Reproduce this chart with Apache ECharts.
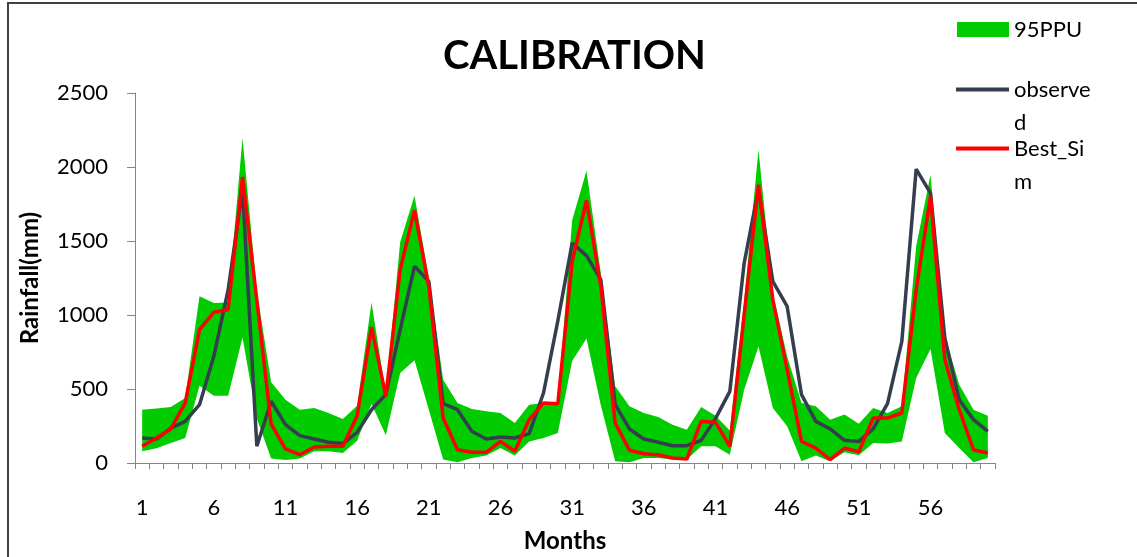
<!DOCTYPE html>
<html>
<head>
<meta charset="utf-8">
<script src="https://cdn.jsdelivr.net/npm/echarts@6/dist/echarts.min.js"></script>
<style>
html,body{margin:0;padding:0;background:#fff;}
#chart{width:1137px;height:557px;}
</style>
</head>
<body>
<div id="chart"></div>
<script>
const months = [];
for (let m = 1; m <= 60; m++) months.push(String(m));

const observed = [169,162,236,281,394,721,1171,1850,113,417,
  259,185,162,140,131,207,360,462,901,1329,
  1227,401,360,214,162,176,169,198,473,960,
  1486,1401,1239,394,230,162,140,117,117,153,
  300,484,1351,1850,1227,1058,462,281,230,153,
  146,230,401,822,1986,1824,845,428,293,214];

const bestSim = [113,169,230,405,901,1018,1036,1932,1100,262,
  95,56,108,113,113,320,919,450,1306,1707,
  1190,304,90,72,72,146,79,293,405,401,
  1360,1775,1194,270,86,63,56,34,27,281,
  275,113,1000,1880,1103,631,146,101,23,101,
  75,304,304,338,1171,1802,698,360,90,68];

const upper95 = [360,368,378,439,1126,1081,1085,2196,1160,545,
  428,360,372,338,297,387,1085,470,1491,1806,
  1250,563,405,365,349,338,270,394,405,410,
  1640,1975,1280,518,383,338,311,259,225,378,
  320,220,1100,2117,1150,720,405,383,293,327,
  265,372,338,383,1464,1948,860,530,360,320];

const lower95 = [79,99,135,169,522,455,455,848,300,30,
  20,30,79,79,68,150,400,188,608,694,
  360,23,5,34,50,101,50,146,169,203,
  690,842,390,11,5,34,34,23,23,113,
  113,56,495,788,372,248,11,50,11,72,
  53,135,131,146,574,770,203,101,5,34];

const yTicks = {min: 0, max: 2500, interval: 500};

const bandWidth = upper95.map((u, i) => u - lower95[i]);

const FONT = 'Lato, "Open Sans", sans-serif';
const chart = echarts.init(document.getElementById('chart'));

const legendText = {fontFamily: FONT, fontSize: 22, color: '#000', lineHeight: 33};

chart.setOption({
  animation: false,
  backgroundColor: '#fff',
  title: {
    text: 'CALIBRATION',
    left: 443, top: 34, padding: 0,
    textStyle: {fontFamily: FONT, fontSize: 40, fontWeight: 'bold', color: '#000', lineHeight: 44}
  },
  graphic: [{
    type: 'rect', silent: true, z: 100,
    shape: {x: 8, y: 3, width: 1150, height: 570},
    style: {fill: 'none', stroke: '#404040', lineWidth: 2}
  }],
  legend: [
    {
      data: [{name: '95PPU', icon: 'rect'}],
      left: 957, top: 13, padding: 0,
      itemWidth: 52, itemHeight: 15,
      textStyle: legendText
    },
    {
      data: [{name: 'observed', icon: 'rect'}],
      left: 956, top: 40, padding: 0,
      itemWidth: 53, itemHeight: 4,
      formatter: () => ' \nobserve\nd',
      textStyle: legendText
    },
    {
      data: [{name: 'Best_Sim', icon: 'rect'}],
      left: 956, top: 99, padding: 0,
      itemWidth: 53, itemHeight: 4,
      formatter: () => ' \nBest_Si\nm',
      textStyle: legendText
    }
  ],
  grid: {left: 135, right: 142, top: 93, bottom: 94, containLabel: false, outerBoundsMode: 'none'},
  xAxis: {
    type: 'category',
    data: months,
    boundaryGap: true,
    name: 'Months',
    nameLocation: 'middle',
    nameGap: 66,
    nameTextStyle: {fontFamily: FONT, fontSize: 24, fontWeight: 'bold', color: '#000'},
    axisLine: {lineStyle: {color: '#868686', width: 1}},
    axisTick: {show: true, interval: 0, length: 6, lineStyle: {color: '#868686'}},
    axisLabel: {interval: 4, margin: 34, fontFamily: FONT, fontSize: 22, color: '#000'},
    splitLine: {show: false}
  },
  yAxis: {
    type: 'value',
    min: yTicks.min, max: yTicks.max, interval: yTicks.interval,
    name: 'Rainfall(mm)',
    nameLocation: 'middle',
    nameGap: 93,
    nameRotate: 90,
    nameTextStyle: {fontFamily: FONT, fontSize: 24, fontWeight: 'bold', color: '#000'},
    axisLine: {show: true, lineStyle: {color: '#868686', width: 1}},
    axisTick: {show: true, length: 8, lineStyle: {color: '#868686'}},
    axisLabel: {margin: 27, fontFamily: FONT, fontSize: 22, color: '#000', formatter: (v) => String(v)},
    splitLine: {show: false}
  },
  series: [
    {
      name: 'lowerBase', type: 'line', stack: 'ppu', data: lower95,
      symbol: 'none', silent: true,
      lineStyle: {width: 0, opacity: 0},
      itemStyle: {color: 'transparent'}
    },
    {
      name: '95PPU', type: 'line', stack: 'ppu', data: bandWidth,
      symbol: 'none', silent: true,
      color: '#00CC00',
      lineStyle: {width: 0, opacity: 0},
      areaStyle: {color: '#00CC00', opacity: 1}
    },
    {
      name: 'observed', type: 'line', data: observed,
      symbol: 'none', color: '#353E4E',
      lineStyle: {width: 3.5, color: '#353E4E'}
    },
    {
      name: 'Best_Sim', type: 'line', data: bestSim,
      symbol: 'none', color: '#FF0000',
      lineStyle: {width: 3.5, color: '#FF0000'}
    }
  ]
});
</script>
</body>
</html>
